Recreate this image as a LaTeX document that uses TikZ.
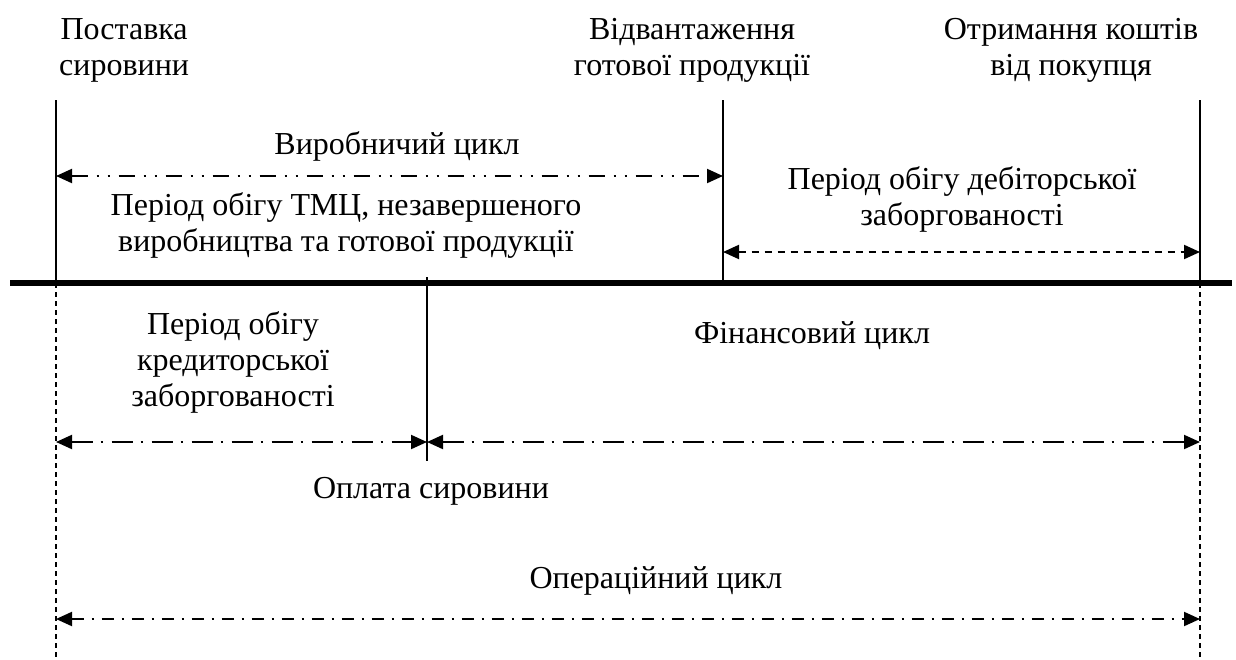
\documentclass[tikz,border=0pt]{standalone}
\usepackage{fontspec}
\setmainfont{Liberation Serif}
\usetikzlibrary{arrows.meta}
\tikzset{
  lbl/.style={inner sep=0pt, align=center, font=\fontsize{32}{36}\selectfont,
    execute at begin node=\strut, execute at end node=\strut},
  lbl1/.style={inner sep=0pt, anchor=base, font=\fontsize{32}{36}\selectfont},
  tip/.style={{Triangle[length=16pt,width=14pt]}-{Triangle[length=16pt,width=14pt]}},
  arr/.style={tip, line width=2pt},
  dashdotdot/.style={dash pattern=on 16pt off 9pt on 2pt off 9pt on 2pt off 9pt},
  dashdotlong/.style={dash pattern=on 21pt off 8pt on 2pt off 9pt},
  dashdotshort/.style={dash pattern=on 12pt off 8pt on 2pt off 8pt},
  dashshort/.style={dash pattern=on 7pt off 6pt},
  marker/.style={line width=1.2pt},
  guide/.style={line width=1.3pt, dash pattern=on 4.5pt off 4.5pt},
  axis/.style={line width=5.5pt}
}
\begin{document}
\begin{tikzpicture}[x=1pt,y=-1pt]
\useasboundingbox (0,0) rectangle (1236,659);
% key coordinates
\coordinate (Ptop) at (56,100);
\coordinate (Paxis) at (56,283);
\coordinate (Pbot) at (56,657);
\coordinate (Vtop) at (723,100);
\coordinate (Vaxis) at (723,283);
\coordinate (Rtop) at (1200,100);
\coordinate (Raxis) at (1200,283);
\coordinate (Rbot) at (1200,657);
\coordinate (Otop) at (427,277);
\coordinate (Obot) at (427,461);
\coordinate (AxL) at (10,283);
\coordinate (AxR) at (1232,283);
% arrow ends
\coordinate (a1) at (56,176);
\coordinate (a2) at (723,176);
\coordinate (b1) at (723,252);
\coordinate (b2) at (1200,252);
\coordinate (c1) at (56,442);
\coordinate (c2) at (427,442);
\coordinate (c3) at (1200,442);
\coordinate (d1) at (56,619);
\coordinate (d2) at (1200,619);

% axis and markers
\draw[axis] (AxL) -- (AxR);
\draw[marker] (Ptop) -- (Paxis);
\draw[marker] (Vtop) -- (Vaxis);
\draw[marker] (Rtop) -- (Raxis);
\draw[marker] (Otop) -- (Obot);
\draw[guide] (Paxis) -- (Pbot);
\draw[guide] (Raxis) -- (Rbot);

% arrows
\draw[arr, dashdotdot] (a1) -- (a2);
\draw[arr, dashshort] (b1) -- (b2);
\draw[arr, dashdotlong] (c1) -- (c2);
\draw[arr, dashdotlong] (c2) -- (c3);
\draw[arr, dashdotshort] (d1) -- (d2);

% labels
\node[lbl, anchor=west] (supply) at (59,52) {Поставка\\сировини};
\node[lbl] (ship) at (692,52) {Відвантаження\\готової продукції};
\node[lbl] (cash) at (1071,52) {Отримання коштів\\від покупця};
\node[lbl1] (prod) at (397,154) {Виробничий цикл};
\node[lbl] (inv) at (346,227) {Період обігу ТМЦ, незавершеного\\виробництва та готової продукції};
\node[lbl] (recv) at (962,201) {Період обігу дебіторської\\заборгованості};
\node[lbl] (pay) at (233,364) {Період обігу\\кредиторської\\заборгованості};
\node[lbl1] (fin) at (812,343) {Фінансовий цикл};
\node[lbl1] (paym) at (431,498) {Оплата сировини};
\node[lbl1] (oper) at (656,588) {Операційний цикл};
\end{tikzpicture}
\end{document}
